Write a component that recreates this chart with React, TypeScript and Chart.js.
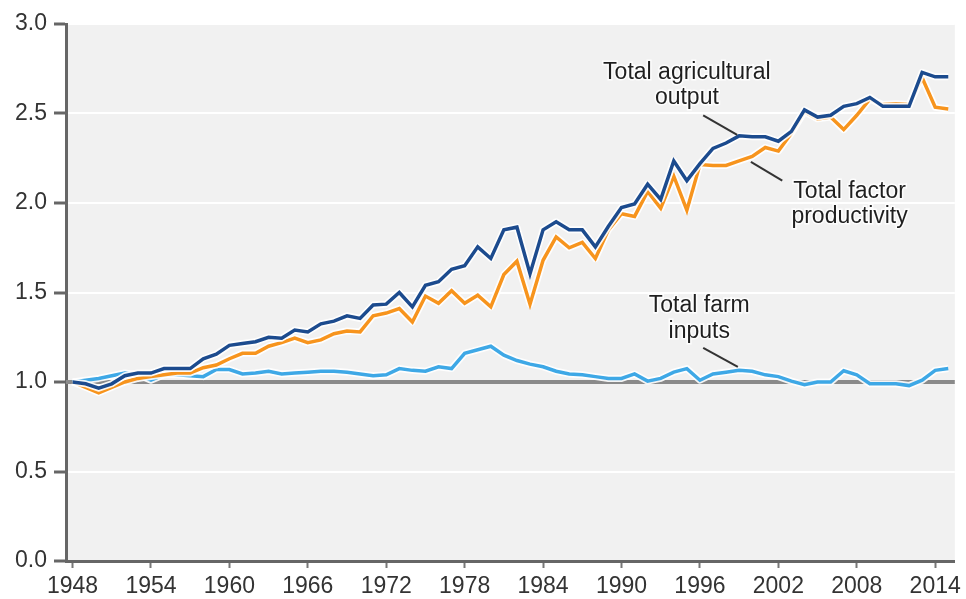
import { useEffect, useRef } from "react";
import { Chart, registerables } from "chart.js";

Chart.register(...registerables);

// ---- Data (index 1948 = 1.0) ----
const years: string[] = Array.from({ length: 68 }, (_, i) => String(1948 + i));

const totalOutput: number[] = [
  1.0, 0.99, 0.965, 0.99, 1.035, 1.05, 1.05, 1.075, 1.075, 1.075, // 1948-1957
  1.13, 1.155, 1.205, 1.215, 1.225, 1.25, 1.245, 1.29, 1.28, 1.325, // 1958-1967
  1.34, 1.37, 1.355, 1.43, 1.435, 1.5, 1.42, 1.54, 1.56, 1.63, // 1968-1977
  1.65, 1.755, 1.69, 1.85, 1.865, 1.605, 1.85, 1.895, 1.85, 1.85, // 1978-1987
  1.755, 1.87, 1.975, 1.995, 2.105, 2.02, 2.235, 2.125, 2.22, 2.305, // 1988-1997
  2.335, 2.375, 2.37, 2.37, 2.345, 2.4, 2.52, 2.48, 2.49, 2.54, // 1998-2007
  2.555, 2.59, 2.54, 2.54, 2.54, 2.73, 2.705, 2.705, // 2008-2015
];

const totalFactorProductivity: number[] = [
  1.0, 0.97, 0.94, 0.97, 1.0, 1.02, 1.03, 1.04, 1.05, 1.05, // 1948-1957
  1.08, 1.095, 1.13, 1.16, 1.16, 1.2, 1.22, 1.245, 1.22, 1.235, // 1958-1967
  1.27, 1.285, 1.28, 1.37, 1.385, 1.41, 1.335, 1.48, 1.44, 1.51, // 1968-1977
  1.44, 1.485, 1.42, 1.6, 1.675, 1.435, 1.68, 1.81, 1.75, 1.78, // 1978-1987
  1.69, 1.85, 1.94, 1.925, 2.065, 1.97, 2.15, 1.96, 2.215, 2.21, // 1988-1997
  2.21, 2.235, 2.26, 2.31, 2.29, 2.39, 2.51, 2.47, 2.48, 2.41, // 1998-2007
  2.49, 2.58, 2.55, 2.555, 2.55, 2.7, 2.535, 2.525, // 2008-2015
];

const totalFarmInputs: number[] = [
  1.0, 1.01, 1.02, 1.035, 1.05, 1.04, 1.01, 1.04, 1.04, 1.035, // 1948-1957
  1.03, 1.07, 1.07, 1.045, 1.05, 1.06, 1.045, 1.05, 1.055, 1.06, // 1958-1967
  1.06, 1.055, 1.045, 1.035, 1.04, 1.075, 1.065, 1.06, 1.085, 1.075, // 1968-1977
  1.16, 1.18, 1.2, 1.15, 1.12, 1.1, 1.085, 1.06, 1.045, 1.04, // 1978-1987
  1.03, 1.02, 1.02, 1.045, 1.005, 1.02, 1.055, 1.075, 1.01, 1.045, // 1988-1997
  1.055, 1.065, 1.06, 1.04, 1.03, 1.005, 0.985, 1.0, 1.0, 1.063, // 1998-2007
  1.04, 0.99, 0.99, 0.99, 0.98, 1.01, 1.065, 1.075, // 2008-2015
];

const xTickLabels: string[] = ["1948", "1954", "1960", "1966", "1972", "1978", "1984", "1990", "1996", "2002", "2008", "2014"];
const baselineValue = 1.0;

// Annotations positioned in data units (year, value)
const annotations = [
  { lines: ["Total agricultural", "output"], year: 1995.0, value: 2.73, leader: [[1996.25, 2.49], [1998.85, 2.38]] },
  { lines: ["Total factor", "productivity"], year: 2007.45, value: 2.065, leader: [[1999.9, 2.23], [2002.3, 2.125]] },
  { lines: ["Total farm", "inputs"], year: 1995.95, value: 1.425, leader: [[1996.25, 1.19], [1998.9, 1.085]] },
];

const FONT = '"Liberation Sans", Arial, Helvetica, sans-serif';

const decorPlugin = {
  id: "decor",
  beforeDraw(chart: any) {
    const { ctx, chartArea: a } = chart;
    ctx.save();
    ctx.fillStyle = "#f1f1f1";
    ctx.fillRect(a.left, a.top, a.right - a.left, a.bottom - a.top);
    ctx.restore();
  },
  beforeDatasetsDraw(chart: any) {
    const { ctx, chartArea: a, scales } = chart;
    const y = scales.y.getPixelForValue(baselineValue);
    ctx.save();
    ctx.strokeStyle = "#8a8a8a";
    ctx.lineWidth = 4;
    ctx.beginPath();
    ctx.moveTo(a.left, y);
    ctx.lineTo(a.right, y);
    ctx.stroke();
    ctx.restore();
  },
  beforeDatasetDraw(chart: any, args: any) {
    const { ctx } = chart;
    const pts = args.meta.data;
    if (!pts || !pts.length) return;
    ctx.save();
    ctx.strokeStyle = "rgba(255,255,255,0.9)";
    ctx.lineWidth = 7;
    ctx.lineJoin = "round";
    ctx.beginPath();
    pts.forEach((p: any, i: number) => (i ? ctx.lineTo(p.x, p.y) : ctx.moveTo(p.x, p.y)));
    ctx.stroke();
    ctx.restore();
  },
  afterDatasetsDraw(chart: any) {
    const { ctx, scales } = chart;
    const xs = scales.x;
    const ys = scales.y;
    const px = (yr: number) => xs.getPixelForValue(yr - 1948);
    ctx.save();
    annotations.forEach((an) => {
      // leader line
      ctx.strokeStyle = "#333333";
      ctx.lineWidth = 2;
      ctx.beginPath();
      ctx.moveTo(px(an.leader[0][0]), ys.getPixelForValue(an.leader[0][1]));
      ctx.lineTo(px(an.leader[1][0]), ys.getPixelForValue(an.leader[1][1]));
      ctx.stroke();
      // text
      ctx.font = `23px ${FONT}`;
      ctx.textAlign = "center";
      ctx.textBaseline = "middle";
      const cx = px(an.year);
      const y0 = ys.getPixelForValue(an.value);
      an.lines.forEach((t, i) => {
        const ty = y0 + i * 25.5;
        ctx.strokeStyle = "rgba(255,255,255,0.85)";
        ctx.lineWidth = 3;
        ctx.strokeText(t, cx, ty);
        ctx.fillStyle = "#1f1f1f";
        ctx.fillText(t, cx, ty);
      });
    });
    ctx.restore();
  },
};

export default function App() {
  const ref = useRef<HTMLCanvasElement | null>(null);

  useEffect(() => {
    document.body.style.margin = "0";
    const canvas = ref.current;
    if (!canvas) return;
    const chart = new Chart(canvas, {
      type: "line",
      data: {
        labels: years,
        datasets: [
          {
            label: "Total agricultural output",
            data: totalOutput,
            borderColor: "#1c4b8e",
            borderWidth: 3.5,
            pointRadius: 0,
            tension: 0,
            order: 1,
          },
          {
            label: "Total factor productivity",
            data: totalFactorProductivity,
            borderColor: "#f7941d",
            borderWidth: 3.5,
            pointRadius: 0,
            tension: 0,
            order: 2,
          },
          {
            label: "Total farm inputs",
            data: totalFarmInputs,
            borderColor: "#3ea8e6",
            borderWidth: 3.5,
            pointRadius: 0,
            tension: 0,
            order: 3,
          },
        ],
      },
      options: {
        responsive: false,
        animation: false,
        devicePixelRatio: 1,
        layout: { padding: { top: 24, right: 10, left: 0, bottom: 0 } },
        plugins: {
          legend: { display: false },
          tooltip: { enabled: false },
          title: { display: false },
        },
        scales: {
          x: {
            type: "category",
            offset: true,
            grid: {
              drawOnChartArea: false,
              drawTicks: true,
              tickLength: 7,
              tickColor: "#777777",
              tickWidth: 2,
            },
            border: { display: true, color: "#666666", width: 3 },
            ticks: {
              autoSkip: false,
              maxRotation: 0,
              minRotation: 0,
              padding: 5,
              color: "#333333",
              font: { family: FONT, size: 23 },
              callback: (_v: any, i: number) => (xTickLabels.includes(years[i]) ? years[i] : null),
            },
            afterFit: (s: any) => {
              s.height = 38;
            },
          },
          y: {
            min: 0,
            max: 3,
            grid: {
              color: "#ffffff",
              lineWidth: 2,
              drawTicks: true,
              tickLength: 12,
              tickColor: "#666666",
              tickWidth: 3,
            },
            border: { display: true, color: "#666666", width: 3 },
            ticks: {
              stepSize: 0.5,
              padding: 7,
              color: "#333333",
              font: { family: FONT, size: 23 },
              callback: (v: any) => Number(v).toFixed(1),
            },
            afterFit: (s: any) => {
              s.width = 66;
            },
          },
        },
      },
      plugins: [decorPlugin],
    });
    return () => chart.destroy();
  }, []);

  return (
    <div style={{ width: 966, height: 599, position: "relative" }}>
      <canvas ref={ref} width={966} height={599} style={{ display: "block" }} />
    </div>
  );
}
